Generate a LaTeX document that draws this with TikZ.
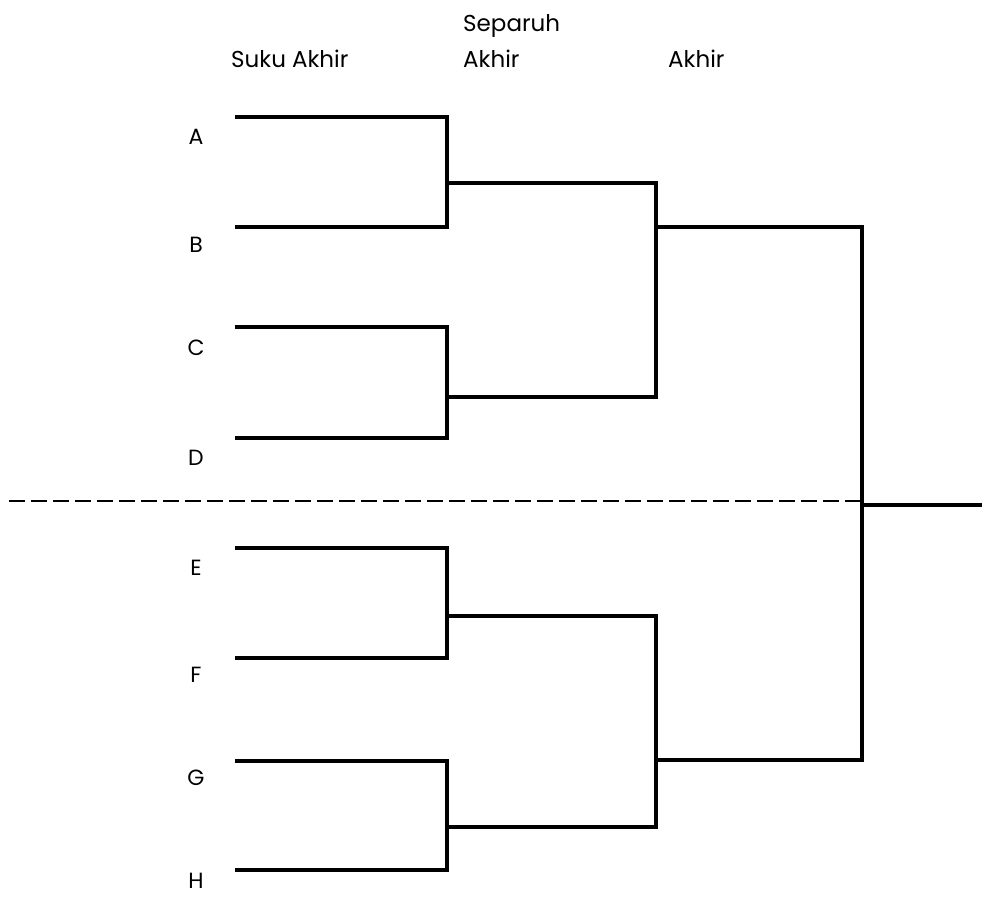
\documentclass[tikz,border=0pt]{standalone}
\usepackage{fontspec}
\setmainfont{Poppins}
\begin{document}
\begin{tikzpicture}[x=1pt,y=-1pt,
  lbl/.style={font=\fontsize{22}{26}\selectfont, inner sep=0pt, anchor=center},
  hdr/.style={font=\fontsize{23}{27}\selectfont, inner sep=0pt, anchor=base west},
  bracket/.style={line width=3.2pt, line cap=rect},
  divider/.style={line width=2.2pt, dash pattern=on 16pt off 6pt}]
\useasboundingbox (0,0) rectangle (982,899);

% column headings
\node[hdr] (h1) at (231,67) {Suku Akhir};
\node[hdr] (h2a) at (463,32) {Separuh};
\node[hdr] (h2b) at (463,67) {Akhir};
\node[hdr] (h3) at (668,67) {Akhir};

% team labels
\foreach \t/\y in {A/137,B/245,C/348,D/458,E/568,F/675,G/778,H/881}
  \node[lbl] (l\t) at (196,\y) {\t};

% first round
\foreach \t/\y in {A/117,B/227,C/327,D/438,E/548,F/658,G/761,H/870}{
  \coordinate (s\t) at (237,\y);
  \coordinate (e\t) at (447,\y);
}
\coordinate (qAB) at (447,183);
\coordinate (qCD) at (447,397);
\coordinate (qEF) at (447,616);
\coordinate (qGH) at (447,827);
\coordinate (rAB) at (656,183);
\coordinate (rCD) at (656,397);
\coordinate (rEF) at (656,616);
\coordinate (rGH) at (656,827);
\coordinate (top) at (656,227);
\coordinate (bot) at (656,760);
\coordinate (ftop) at (862,227);
\coordinate (fbot) at (862,760);
\coordinate (fmid) at (862,505);
\coordinate (win) at (982,505);

\foreach \a/\b in {A/B,C/D,E/F,G/H}
  \draw[bracket] (s\a) -- (e\a) -- (e\b) -- (s\b);
\foreach \p in {AB,CD,EF,GH}
  \draw[bracket] (q\p) -- (r\p);

% semi-finals
\draw[bracket] (rAB) -- (rCD);
\draw[bracket] (rEF) -- (rGH);
\draw[bracket] (top) -- (ftop);
\draw[bracket] (bot) -- (fbot);

% final
\draw[bracket] (ftop) -- (fbot);
\draw[bracket] (fmid) -- (win);

% dividing line between halves
\coordinate (dl) at (9,501);
\coordinate (dr) at (860,501);
\draw[divider] (dl) -- (dr);
\end{tikzpicture}
\end{document}
